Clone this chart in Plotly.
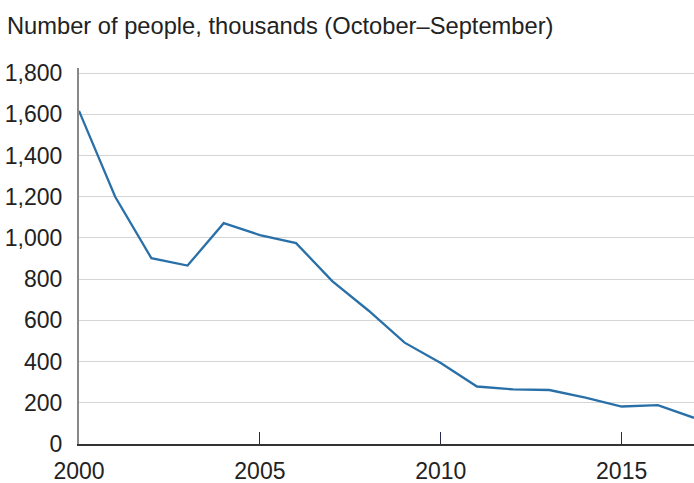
import plotly.graph_objects as go

# Data
years = list(range(2000, 2018))
people = [1617, 1200, 902, 866, 1072, 1014, 975, 791, 648, 492,
          393, 279, 265, 262, 225, 182, 189, 127]

y_ticks = [0, 200, 400, 600, 800, 1000, 1200, 1400, 1600, 1800]
x_ticks = [2000, 2005, 2010, 2015]

fig = go.Figure()

fig.add_trace(go.Scatter(
    x=years,
    y=people,
    mode='lines',
    line=dict(color='#2a70a8', width=2.3),
    hovertemplate='%{x}: %{y:,}<extra></extra>'
))

fig.update_layout(
    width=694,
    height=483,
    margin=dict(l=79, r=0, t=68, b=39),
    showlegend=False,
    plot_bgcolor='white',
    paper_bgcolor='white',
    font=dict(family='Liberation Sans, Arial, sans-serif', size=23, color='#222'),
    xaxis=dict(
        range=[2000, 2017],
        automargin=False,
        tickmode='array',
        tickvals=x_ticks,
        ticktext=[str(t) for t in x_ticks],
        showgrid=False,
        zeroline=False,
        showline=True,
        linecolor='#333',
        linewidth=1.5,
        ticks='inside',
        ticklen=12,
        tickcolor='#2a2a4a',
        tickwidth=1,
        ticklabelstandoff=6,
        tickfont=dict(size=23, color='#222'),
    ),
    yaxis=dict(
        range=[0, 1825],
        automargin=False,
        tickmode='array',
        tickvals=y_ticks,
        tickformat=',',
        showgrid=True,
        gridcolor='#d4d4d4',
        gridwidth=1,
        zeroline=False,
        showline=True,
        linecolor='#888',
        linewidth=2,
        ticks='',
        ticklabelstandoff=10,
        tickfont=dict(size=23, color='#222'),
    ),
)

fig.add_annotation(
    text='Number of people, thousands (October–September)',
    xref='paper', yref='paper',
    x=-79 / 615, y=1,
    xshift=5, yshift=42,
    xanchor='left', yanchor='middle',
    showarrow=False,
    font=dict(size=23.7, color='#222'),
)

# the page body has a default 8px margin; drop it so the figure sits at 0,0
fig.write_html('out.html', config={'displayModeBar': False},
               post_script="document.body.style.margin='0';")
